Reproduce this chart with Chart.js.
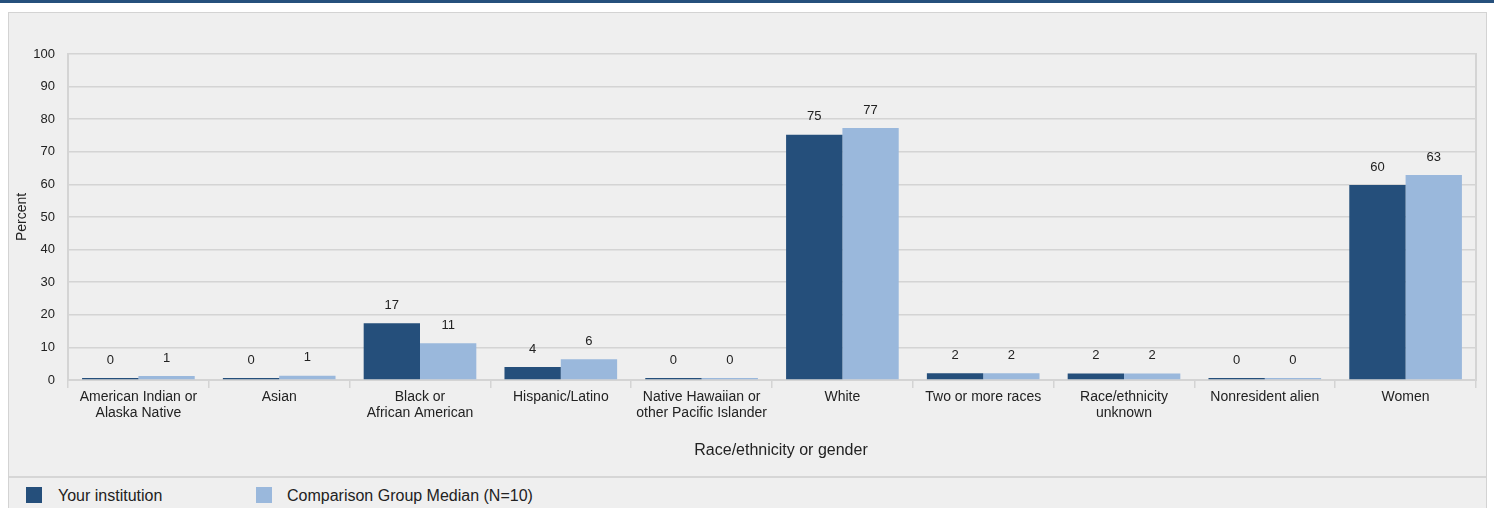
<!DOCTYPE html>
<html>
<head>
<meta charset="utf-8">
<script src="https://cdn.jsdelivr.net/npm/chart.js@4"></script>
<style>
  html, body { margin: 0; padding: 0; background: #ffffff; width: 1494px; height: 508px; overflow: hidden; font-family: "Liberation Sans", Arial, sans-serif; }
  #topbar { position: absolute; left: 0; top: 0; width: 1494px; height: 3px; background: #26507c; }
  #panel { position: absolute; left: 8px; top: 12px; width: 1477px; height: 500px; background: #efefef; border: 1px solid #d3d3d3; }
  #chartbox { position: absolute; left: 9px; top: 13px; width: 1477px; height: 462px; }
  #sep { position: absolute; left: 9px; top: 476px; width: 1477px; height: 2px; background: #d6d6d6; }
  .lg-sq { position: absolute; top: 487px; width: 16px; height: 16px; }
  .lg-tx { position: absolute; top: 487px; font-size: 16px; line-height: 18px; color: #222; }
</style>
</head>
<body>
<div id="topbar"></div>
<div id="panel"></div>
<div id="chartbox"><canvas id="c"></canvas></div>
<div id="sep"></div>
<div class="lg-sq" style="left:26px;background:#254f7b"></div>
<div class="lg-tx" style="left:58px">Your institution</div>
<div class="lg-sq" style="left:256px;background:#9ab8dc"></div>
<div class="lg-tx" style="left:287px">Comparison Group Median (N=10)</div>
<script>
const categories = [
  ["American Indian or", "Alaska Native"],
  "Asian",
  ["Black or", "African American"],
  "Hispanic/Latino",
  ["Native Hawaiian or", "other Pacific Islander"],
  "White",
  "Two or more races",
  ["Race/ethnicity", "unknown"],
  "Nonresident alien",
  "Women"
];
const institutionValues = [0.4, 0.4, 17.4, 4.0, 0.3, 75.2, 2.1, 2.0, 0.3, 59.8];
const comparisonValues  = [1.2, 1.3, 11.3, 6.4, 0.3, 77.3, 2.1, 2.0, 0.3, 62.9];
const yTicks = [0, 10, 20, 30, 40, 50, 60, 70, 80, 90, 100];
const seriesNames = ["Your institution", "Comparison Group Median (N=10)"];
const xAxisTitle = "Race/ethnicity or gender";
const yAxisTitle = "Percent";

const FONT = "'Liberation Sans', Arial, sans-serif";

const valueLabels = {
  id: 'valueLabels',
  afterDatasetsDraw(chart) {
    const ctx = chart.ctx;
    ctx.save();
    ctx.font = "13px " + FONT;
    ctx.fillStyle = "#222222";
    ctx.textAlign = "center";
    ctx.textBaseline = "middle";
    chart.data.datasets.forEach((ds, i) => {
      const meta = chart.getDatasetMeta(i);
      meta.data.forEach((bar, j) => {
        ctx.fillText(String(Math.round(ds.data[j])), bar.x, bar.y - 18);
      });
    });
    ctx.restore();
  }
};

const xTitle = {
  id: 'xTitle',
  afterDraw(chart) {
    const ctx = chart.ctx;
    const a = chart.chartArea;
    ctx.save();
    ctx.font = "16px " + FONT;
    ctx.fillStyle = "#222222";
    ctx.textAlign = "center";
    ctx.textBaseline = "middle";
    ctx.fillText(xAxisTitle, (a.left + a.right) / 2 + 9, a.bottom + 71);
    ctx.restore();
  }
};

new Chart(document.getElementById('c'), {
  type: 'bar',
  data: {
    labels: categories,
    datasets: [
      { label: seriesNames[0], data: institutionValues, backgroundColor: '#254f7b', categoryPercentage: 0.8, barPercentage: 1.0, minBarLength: 2 },
      { label: seriesNames[1], data: comparisonValues, backgroundColor: '#9ab8dc', categoryPercentage: 0.8, barPercentage: 1.0, minBarLength: 2 }
    ]
  },
  options: {
    responsive: true,
    maintainAspectRatio: false,
    animation: false,
    layout: { padding: { top: 41, right: 10, left: 0, bottom: 0 } },
    plugins: { legend: { display: false }, tooltip: { enabled: false } },
    scales: {
      x: {
        grid: { display: true, drawOnChartArea: false, drawTicks: true, tickLength: 8, color: '#d4d4d4', lineWidth: 1.5, offset: true },
        border: { display: true, color: '#d4d4d4', width: 2 },
        ticks: { color: '#222', font: { family: FONT, size: 14, lineHeight: 1.15 }, padding: 1, maxRotation: 0, autoSkip: false },
        title: { display: false },
        afterFit(scale) { scale.height = 95; }
      },
      y: {
        min: 0, max: 100,
        afterBuildTicks(scale) { scale.ticks = yTicks.map(v => ({ value: v })); },
        grid: { color: '#d4d4d4', lineWidth: 1.5, drawTicks: false },
        border: { display: true, color: '#d4d4d4', width: 2 },
        ticks: { color: '#222', font: { family: FONT, size: 13 }, padding: 13 },
        title: { display: true, text: yAxisTitle, color: '#222', font: { family: FONT, size: 14 }, padding: { top: 5, bottom: 5 } },
        afterFit(scale) { scale.width = 59; }
      },
      y2: {
        position: 'right', min: 0, max: 100,
        grid: { display: false },
        border: { display: true, color: '#d4d4d4', width: 2 },
        ticks: { display: false },
        afterFit(scale) { scale.width = 0; }
      }
    }
  },
  plugins: [valueLabels, xTitle]
});
</script>
</body>
</html>
